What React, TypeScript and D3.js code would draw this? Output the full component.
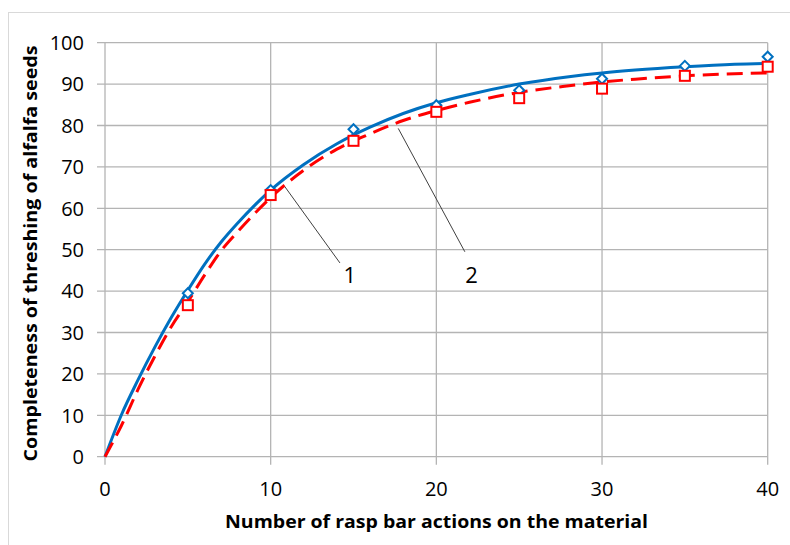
import React from "react";
import * as d3 from "d3";

// Measured points
const xPoints = [5, 10, 15, 20, 25, 30, 35, 40];
const series1 = [39.5, 64.4, 79.1, 84.9, 88.5, 91.3, 94.4, 96.6];
const series2 = [36.6, 63.2, 76.3, 83.3, 86.6, 88.9, 92.0, 94.2];

// Trend curves
const curveX = [0, 1, 2, 3, 4, 5, 6, 7, 8, 9, 10, 12, 14, 16, 18, 20, 22, 25, 28, 30, 32, 35, 38, 40];
const curve1 = [0, 10.2, 18.6, 26.4, 33.6, 40.2, 46.4, 51.8, 56.4, 60.6, 64.4, 70.6, 75.6, 79.6, 82.9, 85.5, 87.5, 90.0, 91.8, 92.7, 93.4, 94.2, 94.8, 95.0];
const curve2 = [0, 7.6, 16.3, 24.2, 31.4, 37.4, 43.8, 49.7, 54.3, 58.6, 62.6, 69.2, 74.3, 78.0, 81.2, 83.6, 85.6, 88.0, 89.6, 90.5, 91.2, 92.0, 92.5, 92.7];

const xTicks = [0, 10, 20, 30, 40];
const yTicks = [0, 10, 20, 30, 40, 50, 60, 70, 80, 90, 100];

// Annotations (data units): [x1, y1, x2, y2, labelX, labelY, text]
const annotations: [number, number, number, number, number, number, string][] = [
  [10.86, 65.2, 14.18, 46.8, 14.78, 41.9, "1"],
  [17.7, 79.3, 21.72, 49.5, 22.12, 41.9, "2"],
];

const xTitle = "Number of rasp bar actions on the material";
const yTitle = "Completeness of threshing of alfalfa seeds";

export default function App() {
  const W = 790, H = 545;
  const x = d3.scaleLinear().domain([0, 40]).range([105, 767.7]);
  const y = d3.scaleLinear().domain([0, 100]).range([456.7, 42.7]);
  const font = "'Open Sans', 'DejaVu Sans', sans-serif";
  const blue = "#0070C0";
  const red = "#FF0000";
  const grid = "#b4b4b4";

  const line = d3
    .line<[number, number]>()
    .x((d) => x(d[0]))
    .y((d) => y(d[1]))
    .curve(d3.curveMonotoneX);

  const c1 = line(curveX.map((v, i) => [v, curve1[i]] as [number, number])) || "";
  const c2 = line(curveX.map((v, i) => [v, curve2[i]] as [number, number])) || "";

  const [x0, x1] = x.range();
  const [y0, y1] = y.range();

  return (
    <svg width={W} height={H} style={{ position: "absolute", left: 0, top: 0, background: "#fff" }}>
      <rect x={0} y={0} width={W} height={H} fill="#fff" />
      <rect x={8.5} y={12.5} width={W + 20} height={H + 20} fill="none" stroke="#d9d9d9" strokeWidth={1} />
      {/* horizontal gridlines */}
      {yTicks.map((t) => (
        <line key={"h" + t} x1={x0 - 8} x2={x1} y1={y(t)} y2={y(t)} stroke={grid} strokeWidth={1.3} />
      ))}
      {/* vertical gridlines */}
      {xTicks.map((t) => (
        <line key={"v" + t} x1={x(t)} x2={x(t)} y1={y1} y2={y0 + 8} stroke={grid} strokeWidth={1.3} />
      ))}
      {/* y tick labels */}
      {yTicks.map((t) => (
        <text key={"yl" + t} x={84} y={y(t)} dy="0.36em" textAnchor="end" fontFamily={font} fontSize={20} fill="#000">
          {t}
        </text>
      ))}
      {/* x tick labels */}
      {xTicks.map((t) => (
        <text key={"xl" + t} x={x(t)} y={496} textAnchor="middle" fontFamily={font} fontSize={20} fill="#000">
          {t}
        </text>
      ))}
      {/* axis titles */}
      <text
        x={436.5}
        y={528}
        textAnchor="middle"
        fontFamily={font}
        fontWeight="bold"
        fontSize={18.5}
        fill="#000"
        textLength={423}
        lengthAdjust="spacingAndGlyphs"
      >
        {xTitle}
      </text>
      <text
        transform={`translate(37,253.5) rotate(-90)`}
        textAnchor="middle"
        fontFamily={font}
        fontWeight="bold"
        fontSize={18.5}
        fill="#000"
        textLength={416}
        lengthAdjust="spacingAndGlyphs"
      >
        {yTitle}
      </text>
      {/* curves */}
      <path d={c1} fill="none" stroke={blue} strokeWidth={3} />
      <path d={c2} fill="none" stroke={red} strokeWidth={3} strokeDasharray="16 8" />
      {/* markers */}
      {xPoints.map((v, i) => {
        const cx = x(v), cy = y(series1[i]);
        const s = 5;
        return (
          <path
            key={"d" + i}
            d={`M${cx},${cy - s}L${cx + s},${cy}L${cx},${cy + s}L${cx - s},${cy}Z`}
            fill="#fff"
            stroke={blue}
            strokeWidth={2}
          />
        );
      })}
      {xPoints.map((v, i) => (
        <rect
          key={"s" + i}
          x={x(v) - 5}
          y={y(series2[i]) - 5}
          width={10}
          height={10}
          fill="#fff"
          stroke={red}
          strokeWidth={2}
        />
      ))}
      {/* annotations */}
      {annotations.map((a, i) => (
        <g key={"a" + i}>
          <line x1={x(a[0])} y1={y(a[1])} x2={x(a[2])} y2={y(a[3])} stroke="#404040" strokeWidth={1} />
          <text x={x(a[4])} y={y(a[5])} textAnchor="middle" fontFamily={font} fontSize={22} fill="#000">
            {a[6]}
          </text>
        </g>
      ))}
    </svg>
  );
}
